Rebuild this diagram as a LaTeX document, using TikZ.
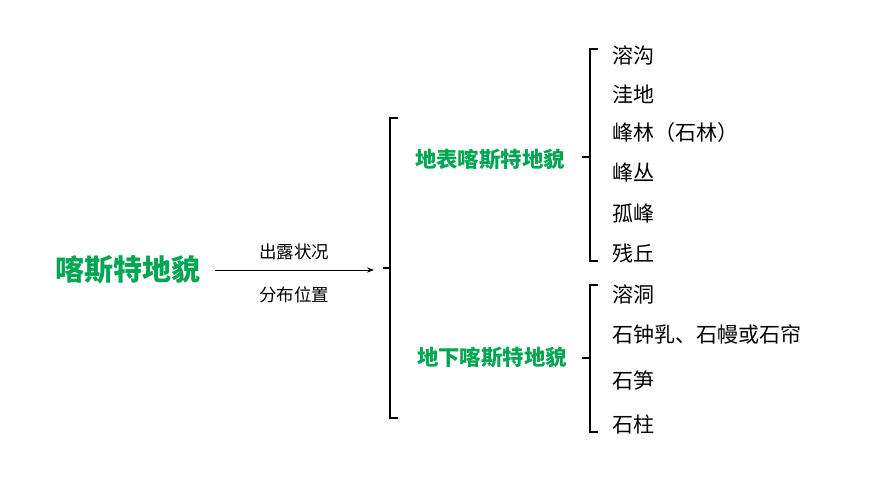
\documentclass[tikz,border=0pt]{standalone}
\usepackage{fontspec}
\setmainfont{Noto Sans CJK SC}
\usetikzlibrary{arrows.meta}
\definecolor{grn}{RGB}{0,166,81}
\tikzset{x=1pt,y=-1pt,
 title/.style={text=grn,font=\bfseries\fontsize{29}{32}\selectfont},
 sub/.style={text=grn,font=\bfseries\fontsize{21.4}{24}\selectfont},
 item/.style={anchor=west,font=\fontsize{21}{24}\selectfont,inner sep=0pt},
 lab/.style={font=\fontsize{17.5}{20}\selectfont},
 br/.style={line width=1.6pt}}
\begin{document}
\begin{tikzpicture}
\useasboundingbox (0,0) rectangle (870,489);
\node[title] (main) at (128,270) {喀斯特地貌};
\coordinate (astart) at (215,270);
\coordinate (aend) at (374,270);
\draw[line width=1pt,-{Stealth[length=7pt]}] (astart) -- (aend);
\node[lab] (l1) at (294,252) {出露状况};
\node[lab] (l2) at (294,295) {分布位置};
\draw[br] (398,118) -- (390,118) -- (390,418) -- (398,418);
\draw[br] (390,268) -- (383,268);
\node[sub] (s1) at (490,160) {地表喀斯特地貌};
\node[sub] (s2) at (492,358) {地下喀斯特地貌};
\draw[br] (598,49) -- (590,49) -- (590,261) -- (598,261);
\draw[br] (590,157) -- (582,157);
\draw[br] (598,285) -- (590,285) -- (590,432) -- (598,432);
\draw[br] (590,358) -- (582,358);
\node[item] (a1) at (612,55) {溶沟};
\node[item] (a2) at (612,94) {洼地};
\node[item] (a3) at (612,133) {峰林（石林）};
\node[item] (a4) at (612,173) {峰丛};
\node[item] (a5) at (612,213) {孤峰};
\node[item] (a6) at (612,253) {残丘};
\node[item] (b1) at (612,294) {溶洞};
\node[item] (b2) at (612,335) {石钟乳、石幔或石帘};
\node[item] (b3) at (612,380) {石笋};
\node[item] (b4) at (612,425) {石柱};
\end{tikzpicture}
\end{document}
